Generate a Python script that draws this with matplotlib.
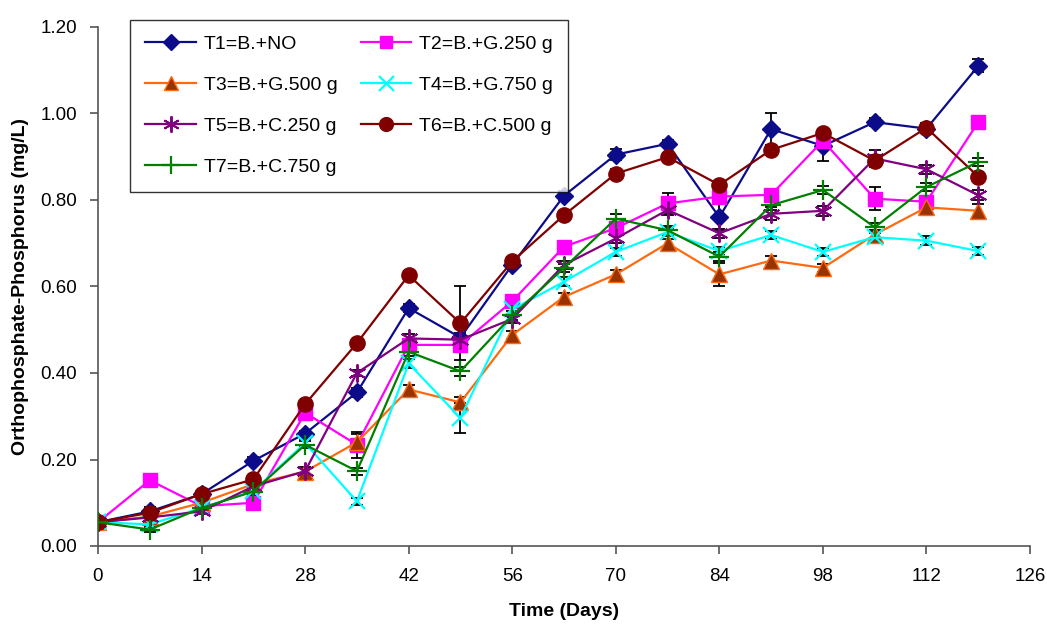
import matplotlib
matplotlib.use("Agg")
import matplotlib.pyplot as plt

plt.rcParams['font.family'] = ['Liberation Sans', 'DejaVu Sans']

# sampling days
days = [0, 7, 14, 21, 28, 35, 42, 49, 56, 63, 70, 77, 84, 91, 98, 105, 112, 119]

labels = ["T1=B.+NO", "T2=B.+G.250 g", "T3=B.+G.500 g", "T4=B.+G.750 g",
          "T5=B.+C.250 g", "T6=B.+C.500 g", "T7=B.+C.750 g"]

t1 = [0.055, 0.080, 0.120, 0.197, 0.260, 0.355, 0.550, 0.482, 0.650, 0.810,
      0.905, 0.930, 0.760, 0.964, 0.925, 0.980, 0.965, 1.110]
t2 = [0.055, 0.152, 0.092, 0.100, 0.308, 0.234, 0.465, 0.465, 0.566, 0.692,
      0.735, 0.792, 0.808, 0.812, 0.937, 0.803, 0.796, 0.980]
t3 = [0.055, 0.068, 0.100, 0.143, 0.172, 0.240, 0.362, 0.332, 0.488, 0.576,
      0.628, 0.700, 0.628, 0.660, 0.643, 0.720, 0.783, 0.775]
t4 = [0.055, 0.050, 0.088, 0.127, 0.238, 0.103, 0.422, 0.296, 0.547, 0.611,
      0.680, 0.726, 0.682, 0.719, 0.680, 0.714, 0.706, 0.682]
t5 = [0.055, 0.066, 0.080, 0.138, 0.173, 0.400, 0.480, 0.477, 0.525, 0.650,
      0.711, 0.777, 0.723, 0.768, 0.775, 0.896, 0.871, 0.811]
t6 = [0.055, 0.077, 0.120, 0.154, 0.328, 0.469, 0.626, 0.515, 0.658, 0.765,
      0.861, 0.899, 0.835, 0.916, 0.955, 0.891, 0.967, 0.854]
t7 = [0.055, 0.038, 0.088, 0.126, 0.234, 0.173, 0.449, 0.404, 0.533, 0.643,
      0.757, 0.730, 0.669, 0.788, 0.823, 0.737, 0.830, 0.888]

# standard deviations (error bars)
e1 = [0.003, 0.010, 0.005, 0.008, 0.005, 0.010, 0.010, 0.010, 0.010, 0.010,
      0.012, 0.008, 0.030, 0.037, 0.035, 0.010, 0.010, 0.015]
e2 = [0.003, 0.005, 0.005, 0.008, 0.010, 0.030, 0.010, 0.010, 0.010, 0.010,
      0.010, 0.025, 0.010, 0.010, 0.010, 0.027, 0.010, 0.010]
e3 = [0.003, 0.005, 0.005, 0.008, 0.010, 0.020, 0.010, 0.012, 0.010, 0.010,
      0.010, 0.010, 0.027, 0.010, 0.010, 0.010, 0.010, 0.015]
e4 = [0.003, 0.005, 0.005, 0.008, 0.008, 0.008, 0.010, 0.035, 0.010, 0.010,
      0.010, 0.010, 0.010, 0.010, 0.010, 0.010, 0.010, 0.010]
e5 = [0.003, 0.005, 0.005, 0.008, 0.008, 0.008, 0.010, 0.010, 0.010, 0.010,
      0.010, 0.012, 0.010, 0.015, 0.012, 0.020, 0.010, 0.012]
e6 = [0.003, 0.008, 0.005, 0.008, 0.010, 0.008, 0.010, 0.085, 0.010, 0.010,
      0.010, 0.010, 0.010, 0.012, 0.010, 0.012, 0.010, 0.010]
e7 = [0.003, 0.005, 0.005, 0.008, 0.008, 0.008, 0.010, 0.010, 0.010, 0.010,
      0.010, 0.010, 0.010, 0.010, 0.010, 0.010, 0.010, 0.010]

series = [t1, t2, t3, t4, t5, t6, t7]
errors = [e1, e2, e3, e4, e5, e6, e7]

styles = [
    dict(color='#0c0c8a', marker='D', ms=9, mfc='#0c0c8a', mec='#0c0c8a'),
    dict(color='#ff00ff', marker='s', ms=10, mfc='#ff00ff', mec='#ff00ff'),
    dict(color='#ff6a10', marker='^', ms=11, mfc='#993300', mec='#ff6a10'),
    dict(color='#00ffff', marker='x', ms=12, mfc='#00ffff', mec='#00ffff', mew=1.6),
    dict(color='#800080', marker=(6, 2, 0), ms=13, mfc='#800080', mec='#800080', mew=1.4),
    dict(color='#800000', marker='o', ms=11, mfc='#800000', mec='#800000'),
    dict(color='#008000', marker='+', ms=14, mfc='#008000', mec='#008000', mew=1.6),
]

fig = plt.figure(figsize=(10.47, 6.25), dpi=100)
ax = fig.add_axes([0.0936, 0.1264, 0.8902, 0.8304])

handles = []
for y, err, st in zip(series, errors, styles):
    ax.errorbar(days, y, yerr=err, fmt='none', ecolor='black', elinewidth=1.3,
                capsize=4, capthick=1.3, zorder=2)
for y, st, lab in zip(series, styles, labels):
    h, = ax.plot(days, y, lw=1.6, label=lab, zorder=3, **st)
    handles.append(h)

ax.set_xlim(0, 126)
ax.set_ylim(0, 1.2)
ax.set_xticks(range(0, 127, 14))
ax.set_yticks([0.0, 0.2, 0.4, 0.6, 0.8, 1.0, 1.2])
ax.set_yticklabels(['%.2f' % v for v in [0.0, 0.2, 0.4, 0.6, 0.8, 1.0, 1.2]])
ax.tick_params(axis='both', labelsize=13.5, direction='out', length=6, width=1.2,
               color='#555555')
ax.tick_params(axis='x', pad=10)
ax.tick_params(axis='y', pad=9)
for s in ['top', 'right']:
    ax.spines[s].set_visible(False)
for s in ['left', 'bottom']:
    ax.spines[s].set_linewidth(1.2)
    ax.spines[s].set_color('#555555')

ax.set_xlabel('Time (Days)', fontsize=14, fontweight='bold', labelpad=13)
ax.set_ylabel('Orthophosphate-Phosphorus (mg/L)', fontsize=14, fontweight='bold', labelpad=8)

# legend filled row by row like the original
order = [0, 2, 4, 6, 1, 3, 5]
leg = ax.legend([handles[i] for i in order], [labels[i] for i in order],
                ncol=2, loc='upper left', bbox_to_anchor=(0.034, 1.0135),
                borderaxespad=0, fontsize=14, frameon=True, fancybox=False,
                edgecolor='black', handlelength=2.6, columnspacing=1.2,
                labelspacing=1.2, borderpad=0.8, handletextpad=0.4)
leg.get_frame().set_linewidth(1.0)
for lh in leg.legend_handles:
    lh.set_markersize(lh.get_markersize() * 0.9)

fig.savefig('out.png', dpi=100)
